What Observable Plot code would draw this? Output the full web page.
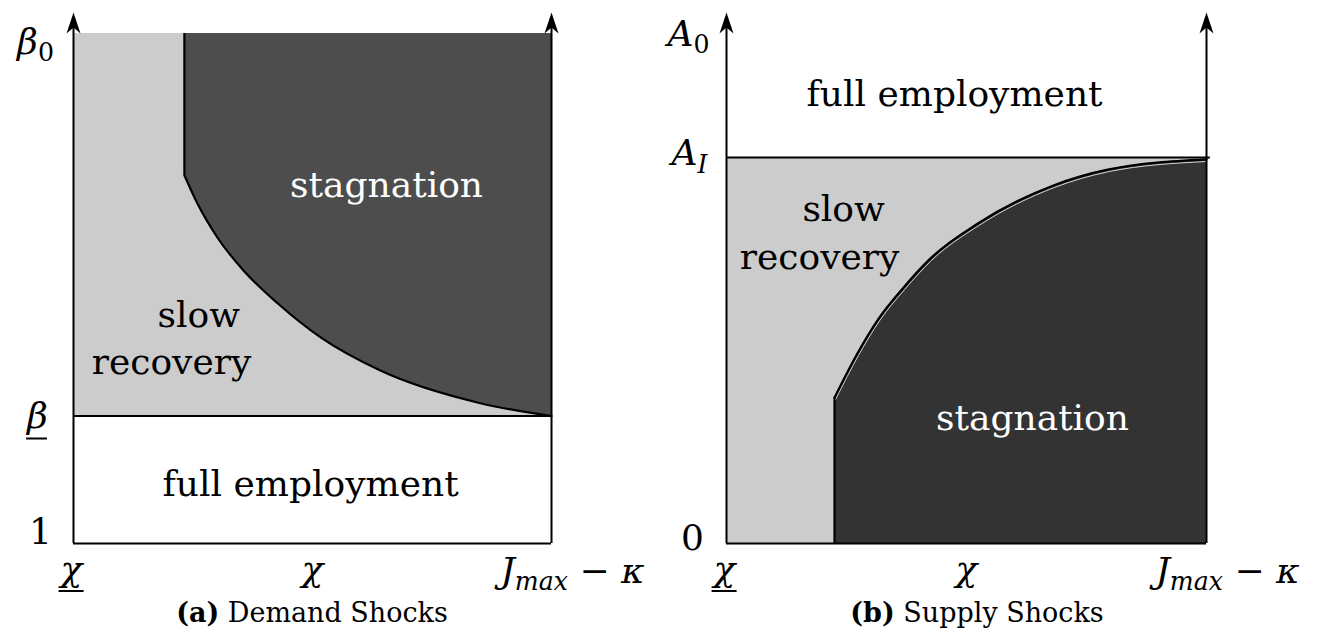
<!DOCTYPE html>
<html>
<head>
<meta charset="utf-8">
<script src="https://cdn.jsdelivr.net/npm/d3@7"></script>
<script src="https://cdn.jsdelivr.net/npm/@observablehq/plot@0.6"></script>
<style>
  html, body { margin: 0; padding: 0; background: #fff; }
  #wrap { position: relative; width: 1323px; height: 639px; overflow: hidden; font-family: "DejaVu Serif", serif; }
  .panel { position: absolute; top: 0; }
  .cap { position: absolute; top: 597px; font-family: "DejaVu Serif", serif; font-size: 27px; color: #000; transform: translateX(-50%); white-space: nowrap; }
  .cap b { font-weight: bold; }
</style>
</head>
<body>
<div id="wrap">
  <div id="left" class="panel" style="left:0px"></div>
  <div id="right" class="panel" style="left:661px"></div>
  <div class="cap" style="left:312px"><b>(a)</b> Demand Shocks</div>
  <div class="cap" style="left:977px"><b>(b)</b> Supply Shocks</div>
</div>
<script>
// ---------- data ----------
// shared x axis ticks (abstract units 0..100)
const xTickValues = [0, 50, 100];
const xTickLabels = ["\\underline{\u03C7}", "\u03C7", "J_{max} \u2212 \u03BA"];

// (a) Demand shocks
const demandYTickValues = [0, 25, 100];
const demandYTickLabels = ["1", "\\underline{\u03B2}", "\u03B2_{0}"];
const demandBeta = 25;      // β threshold
const demandTop = 100;      // β0
const demandKinkX = 23.2;   // vertical boundary x
const demandCurveX = [23.2, 25.9, 30.1, 35.6, 42.7, 51.7, 64.2, 85.1, 100];
const demandCurveY = [72.2, 66.7, 60.0, 53.5, 47.1, 40.4, 33.9, 27.5, 25.0];

// (b) Supply shocks
const supplyYTickValues = [0, 75.7, 100];
const supplyYTickLabels = ["0", "A_{I}", "A_{0}"];
const supplyAI = 75.7;
const supplyKinkX = 22.5;
const supplyCurveX = [22.5, 27.3, 31.7, 36.9, 42.5, 52.3, 68.1, 79.4, 100];
const supplyCurveY = [28.6, 37.3, 44.1, 50.2, 55.9, 62.7, 70.2, 73.3, 75.3];

const axisTop = 104.1;

// ---------- helpers ----------
const FONT = "DejaVu Serif";
const FS = 36;
const arrowHead = {
  draw(ctx) {
    ctx.moveTo(0, 0);
    ctx.lineTo(7, 21);
    ctx.lineTo(0, 15);
    ctx.lineTo(-7, 21);
    ctx.closePath();
  }
};

function applyMarkup(svg) {
  const ns = "http://www.w3.org/2000/svg";
  svg.querySelectorAll("text").forEach(t => {
    const s = t.textContent;
    const ul = s.match(/^\\underline\{(.*)\}$/);
    if (ul) {
      t.textContent = ul[1];
      t.setAttribute("data-underline", "1");
      return;
    }
    if (!s.includes("_{")) return;
    const fs = parseFloat(t.getAttribute("font-size")) || FS;
    t.textContent = "";
    const re = /_\{([^}]*)\}/g;
    let last = 0, m, shifted = false;
    const add = (txt, sub) => {
      if (!txt) return;
      const sp = document.createElementNS(ns, "tspan");
      sp.textContent = txt;
      if (sub) {
        sp.setAttribute("font-size", fs * 0.7);
        sp.setAttribute("dy", fs * 0.22);
        if (/^\d+$/.test(txt)) sp.setAttribute("font-style", "normal");
        shifted = true;
      } else if (shifted) {
        sp.setAttribute("dy", -fs * 0.22);
        shifted = false;
      }
      t.appendChild(sp);
    };
    while ((m = re.exec(s))) {
      add(s.slice(last, m.index), false);
      add(m[1], true);
      last = re.lastIndex;
    }
    add(s.slice(last), false);
  });
}
// draw underline rule for \underline{} labels (needs element in DOM for getBBox)
function drawUnderlines(svg) {
  const ns = "http://www.w3.org/2000/svg";
  svg.querySelectorAll("text[data-underline]").forEach(t => {
    const b = t.getBBox();
    const line = document.createElementNS(ns, "rect");
    line.setAttribute("x", b.x + 1);
    line.setAttribute("y", b.y + b.height + 1.5);
    line.setAttribute("width", b.width - 2);
    line.setAttribute("height", 2);
    line.setAttribute("fill", "black");
    if (t.getAttribute("transform")) line.setAttribute("transform", t.getAttribute("transform"));
    t.parentNode.appendChild(line);
  });
}

function xLabelMarks() {
  const dxs = [-2, 0, 21];
  const dys = [37, 37, 39];
  return xTickValues.map((v, i) => Plot.text([v], {
    x: d => d, y: 0, text: () => xTickLabels[i], fontSize: FS, fontFamily: FONT, fontStyle: "italic",
    lineAnchor: "bottom", textAnchor: "middle", dx: dxs[i], dy: dys[i]
  }));
}

function axesMarks() {
  return [
    Plot.ruleX([0, 100], {y1: 0, y2: axisTop - 2, stroke: "black", strokeWidth: 2}),
    Plot.dot([0, 100], {x: d => d, y: () => axisTop, symbol: arrowHead, fill: "black", stroke: null, r: 6}),
    Plot.ruleY([0], {x1: 0, x2: 100, stroke: "black", strokeWidth: 2}),
    ...xLabelMarks()
  ];
}

function yLabelMarks(values, labels, dxs, dys) {
  return values.map((v, i) => Plot.text([v], {
    x: 0, y: d => d, text: () => labels[i], fontSize: FS, fontFamily: FONT,
    fontStyle: /^\d$/.test(labels[i]) ? "normal" : "italic",
    lineAnchor: "bottom", textAnchor: "middle", dx: dxs[i], dy: dys[i]
  }));
}

const textStyle = {fontSize: FS, fontFamily: FONT, lineAnchor: "bottom", textAnchor: "middle"};

// ---------- (a) Demand shocks ----------
const demandPts = demandCurveX.map((x, i) => ({x, y: demandCurveY[i]}));
const left = Plot.plot({
  width: 661, height: 600,
  x: {domain: [0, 100], range: [73, 551], axis: null},
  y: {domain: [0, 100], range: [543, 33], axis: null},
  marks: [
    Plot.rect([0], {x1: 0, x2: 100, y1: demandBeta, y2: demandTop, fill: "#cccccc"}),
    Plot.areaY(demandPts, {x: "x", y1: "y", y2: demandTop, fill: "#4d4d4d", curve: "monotone-x"}),
    Plot.line(demandPts, {x: "x", y: "y", stroke: "black", strokeWidth: 2.2, curve: "monotone-x"}),
    Plot.ruleX([demandKinkX], {y1: demandCurveY[0], y2: demandTop, stroke: "black", strokeWidth: 2.2}),
    Plot.ruleY([demandBeta], {x1: 0, x2: 100, stroke: "black", strokeWidth: 2}),
    ...axesMarks(),
    ...yLabelMarks(demandYTickValues, demandYTickLabels, [-33, -36, -38], [0, 12, 20]),
    Plot.text(["stagnation"], {x: 65.5, y: 68.0, text: d => d, fill: "white", ...textStyle}),
    Plot.text(["slow"], {x: 26.2, y: 42.4, text: d => d, ...textStyle}),
    Plot.text(["recovery"], {x: 20.5, y: 33.3, text: d => d, ...textStyle}),
    Plot.text(["full employment"], {x: 49.6, y: 9.4, text: d => d, ...textStyle})
  ]
});
applyMarkup(left);
document.getElementById("left").appendChild(left);
drawUnderlines(left);

// ---------- (b) Supply shocks ----------
const supplyPts = supplyCurveX.map((x, i) => ({x, y: supplyCurveY[i]}));
const right = Plot.plot({
  width: 662, height: 600,
  x: {domain: [0, 100], range: [65, 545], axis: null},
  y: {domain: [0, 100], range: [543, 33], axis: null},
  marks: [
    Plot.rect([0], {x1: 0, x2: 100, y1: 0, y2: supplyAI, fill: "#cccccc"}),
    Plot.areaY(supplyPts, {x: "x", y1: 0, y2: "y", fill: "#333333", curve: "monotone-x"}),
    Plot.line(supplyPts, {x: "x", y: "y", stroke: "white", strokeWidth: 0.8, dx: 1, dy: 2, curve: "monotone-x"}),
    Plot.line(supplyPts, {x: "x", y: "y", stroke: "black", strokeWidth: 2.2, curve: "monotone-x"}),
    Plot.ruleX([supplyKinkX], {y1: 0, y2: supplyCurveY[0], stroke: "black", strokeWidth: 2.2}),
    Plot.ruleY([supplyAI], {x1: 0, x2: 100.8, stroke: "black", strokeWidth: 2}),
    ...axesMarks(),
    ...yLabelMarks(supplyYTickValues, supplyYTickLabels, [-34, -37, -38], [6, 8, 12]),
    Plot.text(["full employment"], {x: 47.5, y: 85.7, text: d => d, ...textStyle}),
    Plot.text(["slow"], {x: 24.4, y: 63.3, text: d => d, ...textStyle}),
    Plot.text(["recovery"], {x: 19.4, y: 53.9, text: d => d, ...textStyle}),
    Plot.text(["stagnation"], {x: 63.75, y: 22.2, text: d => d, fill: "white", ...textStyle})
  ]
});
applyMarkup(right);
document.getElementById("right").appendChild(right);
drawUnderlines(right);
</script>
</body>
</html>
